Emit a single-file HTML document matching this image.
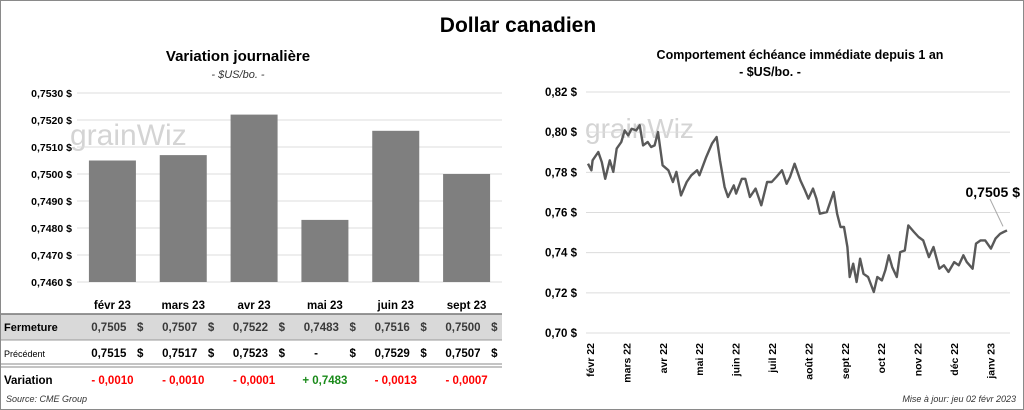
<!DOCTYPE html>
<html><head><meta charset="utf-8"><style>
body{margin:0;width:1024px;height:410px;background:#fff;font-family:"Liberation Sans",sans-serif;overflow:hidden}
svg{display:block}
text{font-family:"Liberation Sans",sans-serif}
</style></head><body>
<svg id="c" width="1024" height="410">
<rect x="0.5" y="0.5" width="1023" height="409" fill="#fff" stroke="#8a8a8a"/>
<text x="518" y="32" font-size="21" font-weight="bold" text-anchor="middle">Dollar canadien</text>
<text x="238" y="61" font-size="15" font-weight="bold" text-anchor="middle">Variation  journalière</text>
<text x="238" y="78" font-size="11" font-style="italic" text-anchor="middle" fill="#333">- $US/bo. -</text>
<text x="800" y="59" font-size="12.5" font-weight="bold" text-anchor="middle">Comportement échéance immédiate depuis 1 an</text>
<text x="770" y="76" font-size="12.5" font-weight="bold" text-anchor="middle">- $US/bo. -</text>
<g id="left"></g>
<g id="table"></g>
<g id="right"></g>
<text x="6" y="402" font-size="9" font-style="italic" fill="#333">Source: CME Group</text>
<text x="1016" y="402" font-size="9" font-style="italic" fill="#333" text-anchor="end">Mise à jour: jeu 02 févr 2023</text>
</svg>
<script>
const NS="http://www.w3.org/2000/svg";
const contracts=["févr 23","mars 23","avr 23","mai 23","juin 23","sept 23"];
const closes=[0.7505,0.7507,0.7522,0.7483,0.7516,0.7500];
const previous=["0,7515","0,7517","0,7523","-","0,7529","0,7507"];
const variations=["- 0,0010","- 0,0010","- 0,0001","+ 0,7483","- 0,0013","- 0,0007"];
const barTicks=[0.7460,0.7470,0.7480,0.7490,0.7500,0.7510,0.7520,0.7530];
const lineTicks=[0.70,0.72,0.74,0.76,0.78,0.80,0.82];
const monthLabels=["févr 22","mars 22","avr 22","mai 22","juin 22","juil 22","août 22","sept 22","oct 22","nov 22","déc 22","janv 23"];
const days=[0,3,4,9,12,15,19,22,25,29,32,35,38,42,45,48,52,55,58,61,65,70,74,77,81,86,90,95,97,103,108,112,115,119,122,127,129,134,137,141,146,151,156,160,164,169,173,176,180,185,189,192,196,199,202,208,214,217,220,223,226,228,231,234,237,240,244,249,252,256,259,262,265,269,272,276,279,284,288,292,297,301,306,310,314,319,323,327,330,335,338,342,346,351,355,359,362,365];
const prices=[0.7843,0.7810,0.7860,0.7901,0.7851,0.7768,0.7860,0.7802,0.7918,0.7951,0.8009,0.7984,0.8017,0.8009,0.8034,0.7934,0.7951,0.7926,0.7934,0.8001,0.7835,0.7810,0.7752,0.7802,0.7685,0.7752,0.7785,0.7810,0.7785,0.7876,0.7943,0.7976,0.7860,0.7727,0.7677,0.7735,0.7694,0.7768,0.7768,0.7677,0.7719,0.7636,0.7752,0.7752,0.7777,0.7810,0.7743,0.7777,0.7843,0.7760,0.7710,0.7669,0.7719,0.7669,0.7594,0.7602,0.7702,0.7594,0.7528,0.7528,0.7428,0.7279,0.7345,0.7254,0.7370,0.7295,0.7279,0.7204,0.7279,0.7262,0.7312,0.7387,0.7328,0.7279,0.7403,0.7411,0.7536,0.7503,0.7478,0.7461,0.7378,0.7428,0.7320,0.7337,0.7304,0.7353,0.7337,0.7387,0.7353,0.7320,0.7445,0.7461,0.7461,0.7420,0.7470,0.7494,0.7503,0.7511];
const lastLabel=0.7505;

function el(tag,attrs,parent,txt){const e=document.createElementNS(NS,tag);for(const k in attrs)e.setAttribute(k,attrs[k]);if(txt!==undefined)e.textContent=txt;parent.appendChild(e);return e;}
const fmt=v=>v.toFixed(4).replace('.',',');

// Bar chart
const L=document.getElementById('left');
const bx0=77,bx1=502,by0=282,by1=93,bmin=0.7460,bmax=0.7530;
const ys=v=>by0-(v-bmin)/(bmax-bmin)*(by0-by1);
const band=(bx1-bx0)/contracts.length;
const xb=i=>bx0+band*(i+0.5);
el('text',{x:70,y:145,'font-size':30,fill:'#d4d4d4',},L,'grainWiz');
barTicks.forEach(t=>{
 const g=el('line',{x1:bx0,x2:bx1,y1:ys(t),y2:ys(t),stroke:'#dcdcdc'},L);
 
 
 const l=el('text',{x:72,y:ys(t)+4,'font-size':10.5,'font-weight':'bold','text-anchor':'end'},L,fmt(t)+' $');
 
 
});
closes.forEach((v,i)=>{
 const r=el('rect',{x:xb(i)-23.5,y:ys(v),width:47,height:by0-ys(v),fill:'#7f7f7f'},L);
 
 
});

// Table
const T=document.getElementById('table');
el('rect',{x:1,y:314,width:501,height:26,fill:'#d9d9d9'},T);
[[314,'#777',1.5],[340,'#999',1],[364,'#888',1],[367,'#888',1]].forEach(a=>el('line',{x1:1,x2:502,y1:a[0],y2:a[0],stroke:a[1],'stroke-width':a[2]},T));
const rl=[['Fermeture',331,11,'bold'],['Précédent',357,9,'normal'],['Variation',384,11.5,'bold']];
rl.forEach(r=>{const t=el('text',{x:4,y:r[1],'font-size':r[2],'font-weight':r[3]},T,r[0]);});
contracts.forEach((c,i)=>{
 const x=xb(i);
 const h=el('text',{x:x,y:309,'font-size':11.5,'font-weight':'bold','text-anchor':'middle'},T,c);
 
 
 const f=el('text',{x:x+14,y:331,'font-size':11.5,'font-weight':'bold','text-anchor':'end',fill:'#3a3a3a'},T,fmt(closes[i]));
 
 
 el('text',{x:x+31,y:331,'font-size':11.5,'font-weight':'bold','text-anchor':'end',fill:'#3a3a3a'},T,'$');
 const p=el('text',{x:previous[i]==='-'?x-7:x+14,y:357,'font-size':11.5,'font-weight':'bold','text-anchor':'end'},T,previous[i]);
 
 
 el('text',{x:x+31,y:357,'font-size':11.5,'font-weight':'bold','text-anchor':'end'},T,'$');
 const v=el('text',{x:x,y:384,'font-size':11.5,'font-weight':'bold','text-anchor':'middle',fill:variations[i][0]==='+'?'#1a8a1a':'#ff0000'},T,variations[i]);
 
 
});

// Line chart
const R=document.getElementById('right');
const rx0=588,rx1=1007,ry0=333,ry1=92,rmin=0.70,rmax=0.82;
const yr=v=>ry0-(v-rmin)/(rmax-rmin)*(ry0-ry1);
const xr=d=>rx0+d/365*(rx1-rx0);
el('text',{x:585,y:138,'font-size':28,fill:'#d4d4d4',},R,'grainWiz');
lineTicks.forEach(t=>{
 const g=el('line',{x1:586,x2:1010,y1:yr(t),y2:yr(t),stroke:'#dcdcdc'},R);
 
 
 const l=el('text',{x:577,y:yr(t)+4,'font-size':11.5,'font-weight':'bold','text-anchor':'end'},R,t.toFixed(2).replace('.',',')+' $');
 
 
});
monthLabels.forEach((m,i)=>{
 const x=590+i*36.4;
 const t=el('text',{x:x+4,y:343,'font-size':10.5,'font-weight':'bold','text-anchor':'end',transform:`rotate(-90 ${x+4} 343)`},R,m);
 
 
});
const pl=el('polyline',{points:days.map((d,i)=>xr(d).toFixed(1)+','+yr(prices[i]).toFixed(1)).join(' '),fill:'none',stroke:'#595959','stroke-width':2.4,'stroke-linejoin':'round'},R);


const lastX=xr(days[days.length-1]),lastY=yr(prices[prices.length-1]);
el('line',{x1:lastX-4,y1:lastY-4,x2:990,y2:199,stroke:'#aaa'},R);
const lab=el('text',{x:1020,y:197,'font-size':14,'font-weight':'bold','text-anchor':'end'},R,fmt(lastLabel)+' $');


</script>
</body></html>
